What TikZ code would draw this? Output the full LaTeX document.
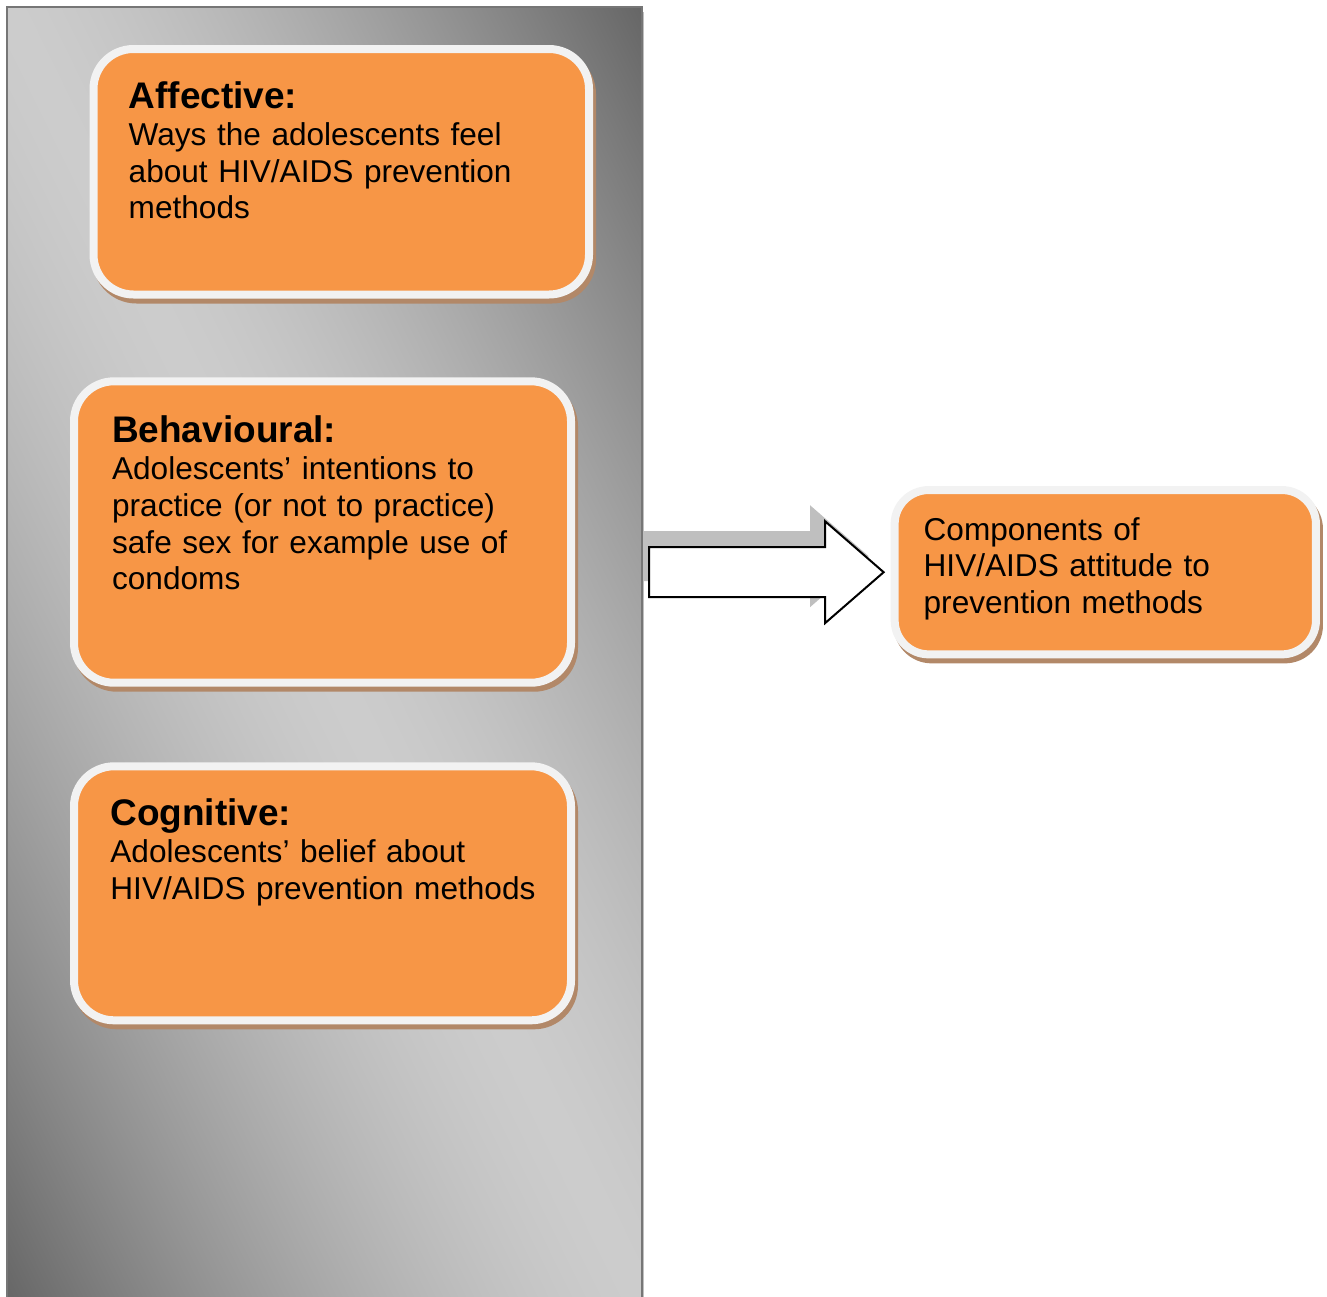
\documentclass[tikz,border=0pt]{standalone}
\usepackage{fontspec}
\setmainfont{Liberation Sans}
\usepackage{xcolor}
\usepackage{tikz}
\usetikzlibrary{calc, backgrounds, shadows}
\definecolor{cardorange}{RGB}{247, 150, 70}
\definecolor{cardrim}{RGB}{242, 242, 242}
\definecolor{cardshade}{RGB}{178, 136, 104}
\definecolor{panelline}{RGB}{118, 118, 118}
\definecolor{arrowshade}{RGB}{191, 191, 191}
% light along the top-left/bottom-right diagonal, dark in the other two corners
\pgfdeclarefunctionalshading{panelshade}{\pgfpoint{0bp}{0bp}}{\pgfpoint{100bp}{100bp}}{}{
    add 100 sub abs 50 div 1.5 exp 0.4 mul 0.8 exch sub dup dup
}
\tikzstyle{panel} = [
    rectangle,
    anchor=north west,
    outer sep=0pt,
    draw=panelline,
    line width=1pt,
    drop shadow={shadow xshift=1pt, shadow yshift=-2.5pt, fill=arrowshade, opacity=1},
    shade,
    shading=panelshade
]
\tikzstyle{card} = [
    rectangle,
    rounded corners=20pt,
    line width=4pt,
    outer sep=0pt,
    draw=cardrim,
    fill=cardorange,
    drop shadow={shadow xshift=1.5pt, shadow yshift=-2.5pt, fill=cardshade, draw=cardshade, opacity=1}
]
\tikzstyle{cardhead} = [
    anchor=base west,
    inner sep=0pt,
    font=\fontsize{18.5}{22}\selectfont\bfseries
]
\tikzstyle{cardtext} = [
    anchor=base west,
    inner sep=0pt,
    text width=250pt,
    align=left,
    font=\fontsize{15.8}{18.3}\selectfont
]
\tikzstyle{bigarrow} = [
    line width=1pt,
    draw=black,
    fill=white,
    line join=miter
]

\begin{document}
\begin{tikzpicture}[x=0.5pt, y=-0.5pt]
        \clip (0,0) rectangle (1327,1296);

        % Grey panel
        \node[panel, minimum width=317.5pt, minimum height=648pt] (panel) at (7,7) {};

        % Affective
        \node[card, minimum width=247.75pt, minimum height=122.75pt] (affective) at (341.25,171.75) {};
        \node[cardhead] (afftitle) at ([shift={(34.8,59.3)}]affective.north west) {Affective:};
        \node[cardtext] (afftext) at ([yshift=-18.6pt]afftitle.base west) {Ways the adolescents feel\\about HIV/AIDS prevention\\methods};

        % Behavioural
        \node[card, minimum width=248.5pt, minimum height=150.7pt] (behavioural) at (322.5,532) {};
        \node[cardhead] (behtitle) at ([shift={(37.7,61.4)}]behavioural.north west) {Behavioural:};
        \node[cardtext] (behtext) at ([yshift=-18.6pt]behtitle.base west) {Adolescents’ intentions to\\practice (or not to practice)\\safe sex for example use of\\condoms};

        % Cognitive
        \node[card, minimum width=248.5pt, minimum height=127pt] (cognitive) at (322.5,893.3) {};
        \node[cardhead] (cogtitle) at ([shift={(36,59.4)}]cognitive.north west) {Cognitive:};
        \node[cardtext] (cogtext) at ([yshift=-18.6pt]cogtitle.base west) {Adolescents’ belief about\\HIV/AIDS prevention methods};

        % Components
        \node[card, rounded corners=17pt, minimum width=210.65pt, minimum height=82.15pt] (comp) at (1105.3,572.2) {};
        \node[cardtext] (comptext) at ([shift={(28.6,50)}]comp.north west) {Components of\\HIV/AIDS attitude to\\prevention methods};

        % Block arrow
        \coordinate (atail) at ($(panel.east |- comp.west)+(7,0)$);
        \coordinate (atip) at ($(comp.west)+(-11,0)$);
        \coordinate (stail) at ($(atail)+(-15,-16)$);
        \coordinate (stip) at ($(atip)+(-15,-16)$);
        \begin{scope}[on background layer]
            \fill[arrowshade] ($(stail)+(0,-25)$) -- ($(stail)+(176,-25)$) -- ($(stail)+(176,-51)$) -- (stip)
                -- ($(stail)+(176,51)$) -- ($(stail)+(176,25)$) -- ($(stail)+(0,25)$) -- cycle;
        \end{scope}
        \draw[bigarrow] ($(atail)+(0,-25)$) -- ($(atail)+(176,-25)$) -- ($(atail)+(176,-51)$) -- (atip)
            -- ($(atail)+(176,51)$) -- ($(atail)+(176,25)$) -- ($(atail)+(0,25)$) -- cycle;
    \end{tikzpicture}
\end{document}
